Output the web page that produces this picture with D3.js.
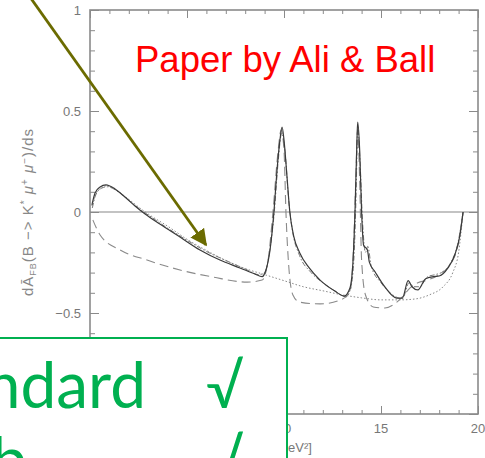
<!DOCTYPE html>
<html>
<head>
<meta charset="utf-8">
<script src="https://cdn.jsdelivr.net/npm/d3@7/dist/d3.min.js"></script>
<style>
  body { margin: 0; background: #fff; }
  svg { display: block; }
</style>
</head>
<body>
<svg id="chart" width="485" height="458"></svg>
<script>
// tick values and labels (the -1 label sits under the green box)
const xMajor = [0, 5, 10, 15, 20];
const xLabels = ["0", "5", "10", "15", "20"];
const yMajor = [-1, -0.5, 0, 0.5, 1];
const yLabels = ["", "\u22120.5", "0", "0.5", "1"];

// SM curve (solid), [s, dA_FB/ds]
const smSolid = [[0.1,0.035],[0.26,0.094],[0.52,0.124],[0.82,0.134],[1.29,0.114],[1.8,0.074],[2.32,0.03],[2.84,-0.01],[3.6,-0.06],[4.64,-0.124],[5.67,-0.188],[6.7,-0.238],[7.73,-0.277],[8.5,-0.307],[8.87,-0.32],[9.07,-0.287],[9.28,-0.188],[9.48,0],[9.64,0.208],[9.79,0.356],[9.9,0.42],[10.0,0.356],[10.15,0.18],[10.3,0],[10.5,-0.12],[10.8,-0.2],[11.3,-0.277],[11.86,-0.337],[12.6,-0.39],[13.1,-0.416],[13.4,-0.376],[13.56,-0.238],[13.66,0],[13.76,0.356],[13.8,0.445],[13.9,0.307],[14.0,0],[14.1,-0.163],[14.3,-0.188],[14.4,-0.248],[14.7,-0.297],[15.2,-0.371],[15.8,-0.426],[16.1,-0.426],[16.4,-0.34],[16.6,-0.37],[16.9,-0.386],[17.3,-0.33],[17.7,-0.32],[18.0,-0.317],[18.45,-0.277],[18.8,-0.213],[19.07,-0.114],[19.23,0]];

// dash-dot variant
const dashDot = [[0.12,0.02],[0.3,0.085],[0.6,0.118],[0.9,0.125],[1.4,0.104],[2.0,0.058],[2.6,0.012],[3.2,-0.028],[4.0,-0.08],[5.0,-0.14],[6.0,-0.195],[7.0,-0.24],[8.0,-0.282],[8.7,-0.31],[9.0,-0.3],[9.25,-0.2],[9.5,0],[9.7,0.25],[9.88,0.39],[10.05,0.3],[10.25,0.05],[10.45,-0.1],[10.8,-0.215],[11.4,-0.3],[12.0,-0.35],[12.7,-0.395],[13.2,-0.42],[13.45,-0.37],[13.62,-0.2],[13.72,0.1],[13.8,0.42],[13.92,0.25],[14.05,-0.05],[14.2,-0.2],[14.32,-0.17],[14.5,-0.27],[15.0,-0.35],[15.6,-0.41],[16.1,-0.43],[16.45,-0.35],[16.7,-0.37],[17.0,-0.37],[17.4,-0.32],[17.8,-0.31],[18.2,-0.295],[18.6,-0.25],[18.95,-0.16],[19.2,-0.02],[19.23,0]];

// long dashed variant
const longDash = [[0.15,-0.04],[0.52,-0.114],[1.55,-0.188],[2.94,-0.238],[4.64,-0.287],[6.34,-0.322],[8.1,-0.347],[8.87,-0.337],[9.18,-0.238],[9.43,0],[9.7,0.307],[9.85,0.406],[10.0,0.307],[10.1,0],[10.26,-0.287],[10.46,-0.411],[10.8,-0.446],[11.86,-0.455],[12.9,-0.436],[13.4,-0.396],[13.6,-0.139],[13.7,0.158],[13.8,0.406],[13.9,0.158],[14.0,-0.238],[14.2,-0.411],[14.6,-0.47],[15.2,-0.475],[15.7,-0.455],[16.1,-0.42],[16.5,-0.376],[16.9,-0.35],[17.4,-0.337],[18.0,-0.31],[18.55,-0.262],[18.97,-0.163],[19.23,0]];

// non-resonant (dotted)
const nonRes = [[0.1,0.03],[0.3,0.09],[0.6,0.12],[0.85,0.13],[1.3,0.11],[1.9,0.07],[2.5,0.025],[3.0,-0.01],[4.0,-0.07],[5.0,-0.135],[6.0,-0.19],[7.0,-0.24],[8.0,-0.28],[9.0,-0.31],[10.0,-0.34],[11.0,-0.37],[12.0,-0.39],[13.0,-0.41],[14.0,-0.425],[15.0,-0.435],[16.0,-0.435],[16.8,-0.43],[17.5,-0.41],[18.2,-0.37],[18.7,-0.3],[19.0,-0.2],[19.23,0]];

const svg = d3.select("#chart");
const plotLeft = 90, plotRight = 478, plotTop = 10, plotBottom = 414;

const x = d3.scaleLinear().domain([0, 20]).range([plotLeft, plotRight]);
const y = d3.scaleLinear().domain([-1, 1]).range([plotBottom, plotTop]);

const axisColor = "#8a8a8a";
const font = "'Liberation Sans', Arial, sans-serif";

// minor + major ticks, all pointing inward
function ticks(axis, pos) {
  const g = svg.append("g").attr("transform", pos).call(axis);
  g.select(".domain").remove();
  g.selectAll("line").attr("stroke", axisColor).attr("stroke-width", 1);
  g.selectAll("text").remove();
  return g;
}
const xMinor = d3.range(0, 21, 1);
const yMinor = d3.range(-10, 11).map(d => d / 10);

ticks(d3.axisBottom(x).tickValues(xMinor).tickSize(-4), `translate(0,${plotBottom})`);
ticks(d3.axisBottom(x).tickValues(xMajor).tickSize(-8), `translate(0,${plotBottom})`);
ticks(d3.axisTop(x).tickValues(xMinor).tickSize(-4), `translate(0,${plotTop})`);
ticks(d3.axisTop(x).tickValues(xMajor).tickSize(-8), `translate(0,${plotTop})`);
ticks(d3.axisLeft(y).tickValues(yMinor).tickSize(-5), `translate(${plotLeft},0)`);
ticks(d3.axisLeft(y).tickValues(yMajor).tickSize(-9), `translate(${plotLeft},0)`);
ticks(d3.axisRight(y).tickValues(yMinor).tickSize(-5), `translate(${plotRight},0)`);
ticks(d3.axisRight(y).tickValues(yMajor).tickSize(-9), `translate(${plotRight},0)`);

// frame
svg.append("rect")
  .attr("x", plotLeft).attr("y", plotTop)
  .attr("width", plotRight - plotLeft).attr("height", plotBottom - plotTop)
  .attr("fill", "none").attr("stroke", axisColor).attr("stroke-width", 1.6);

// zero line
svg.append("line")
  .attr("x1", plotLeft).attr("x2", plotRight)
  .attr("y1", y(0)).attr("y2", y(0))
  .attr("stroke", "#888").attr("stroke-width", 1.2);

// tick labels
svg.append("g").selectAll("text")
  .data(yMajor.filter((d, i) => yLabels[i] !== ""))
  .join("text")
  .attr("x", 81)
  .attr("y", d => y(d))
  .attr("dy", "0.36em")
  .attr("text-anchor", "end")
  .attr("font-family", font)
  .attr("font-size", 13)
  .attr("fill", "#777")
  .text(d => yLabels[yMajor.indexOf(d)]);

svg.append("g").selectAll("text")
  .data(xMajor)
  .join("text")
  .attr("x", d => x(d))
  .attr("y", 433)
  .attr("text-anchor", "middle")
  .attr("font-family", font)
  .attr("font-size", 13)
  .attr("fill", "#777")
  .text((d, i) => xLabels[i]);

// axis titles
svg.append("text")
  .attr("x", 288).attr("y", 452)
  .attr("text-anchor", "middle")
  .attr("font-family", font).attr("font-size", 13).attr("fill", "#777")
  .text("s [GeV\u00b2]");

const yt = svg.append("text")
  .attr("transform", "translate(33,212) rotate(-90)")
  .attr("text-anchor", "middle")
  .attr("font-family", font).attr("font-size", 15).attr("fill", "#888")
  .attr("letter-spacing", 1);
yt.append("tspan").text("d\u0100");
yt.append("tspan").attr("font-size", 9).attr("dy", 3).text("FB");
yt.append("tspan").attr("dy", -3).text("(B \u2212> K");
yt.append("tspan").attr("font-size", 10).attr("dy", -5).text("*");
yt.append("tspan").attr("dy", 5).attr("font-style", "italic").text("  \u03bc");
yt.append("tspan").attr("font-size", 10).attr("dy", -5).text("+");
yt.append("tspan").attr("dy", 5).attr("font-style", "italic").text("  \u03bc");
yt.append("tspan").attr("font-size", 10).attr("dy", -5).text("\u2212");
yt.append("tspan").attr("dy", 5).text(")/ds");

// curves
const line = d3.line()
  .x(d => x(d[0]))
  .y(d => y(d[1]))
  .curve(d3.curveMonotoneX);

const curves = [
  { data: nonRes, color: "#888", width: 1, dash: "1.5,2" },
  { data: longDash, color: "#8a8a8a", width: 1.1, dash: "9,5" },
  { data: dashDot, color: "#777", width: 1, dash: "5,2,1.5,2" },
  { data: smSolid, color: "#3a3a3a", width: 1.2, dash: null }
];
svg.append("g").selectAll("path")
  .data(curves)
  .join("path")
  .attr("d", d => line(d.data))
  .attr("fill", "none")
  .attr("stroke", d => d.color)
  .attr("stroke-width", d => d.width)
  .attr("stroke-dasharray", d => d.dash);

// annotation
svg.append("text")
  .attr("x", 135).attr("y", 72)
  .attr("font-family", font).attr("font-size", 36.5).attr("fill", "#ff0000")
  .text("Paper by Ali & Ball");

// olive arrow
const olive = "#6b6b00";
svg.append("defs").append("marker")
  .attr("id", "head")
  .attr("viewBox", "0 0 10 10")
  .attr("refX", 9).attr("refY", 5)
  .attr("markerWidth", 6).attr("markerHeight", 6)
  .attr("markerUnits", "strokeWidth")
  .attr("orient", "auto")
  .append("path")
  .attr("d", "M0,0 L10,5 L0,10 Z")
  .attr("fill", olive);
svg.append("line")
  .attr("x1", 25).attr("y1", -10)
  .attr("x2", 206).attr("y2", 245)
  .attr("stroke", olive).attr("stroke-width", 2.8)
  .attr("marker-end", "url(#head)");

// green box
svg.append("rect")
  .attr("x", -10).attr("y", 338)
  .attr("width", 297).attr("height", 140)
  .attr("fill", "#fff")
  .attr("stroke", "#00b050").attr("stroke-width", 2);

const green = "#00b050";
const boxFont = "'Comic Sans MS', Lato, sans-serif";
svg.append("text")
  .attr("x", 146).attr("y", 408)
  .attr("text-anchor", "end")
  .attr("font-family", boxFont).attr("font-size", 64).attr("fill", green)
  .text("Standard");
svg.append("text")
  .attr("x", 206).attr("y", 408)
  .attr("font-family", boxFont).attr("font-size", 60).attr("fill", green)
  .text("\u221a");
svg.append("text")
  .attr("x", 27).attr("y", 483)
  .attr("text-anchor", "end")
  .attr("font-family", boxFont).attr("font-size", 64).attr("fill", green)
  .text("b");
svg.append("text")
  .attr("x", 206).attr("y", 483)
  .attr("font-family", boxFont).attr("font-size", 60).attr("fill", green)
  .text("\u221a");
</script>
</body>
</html>
